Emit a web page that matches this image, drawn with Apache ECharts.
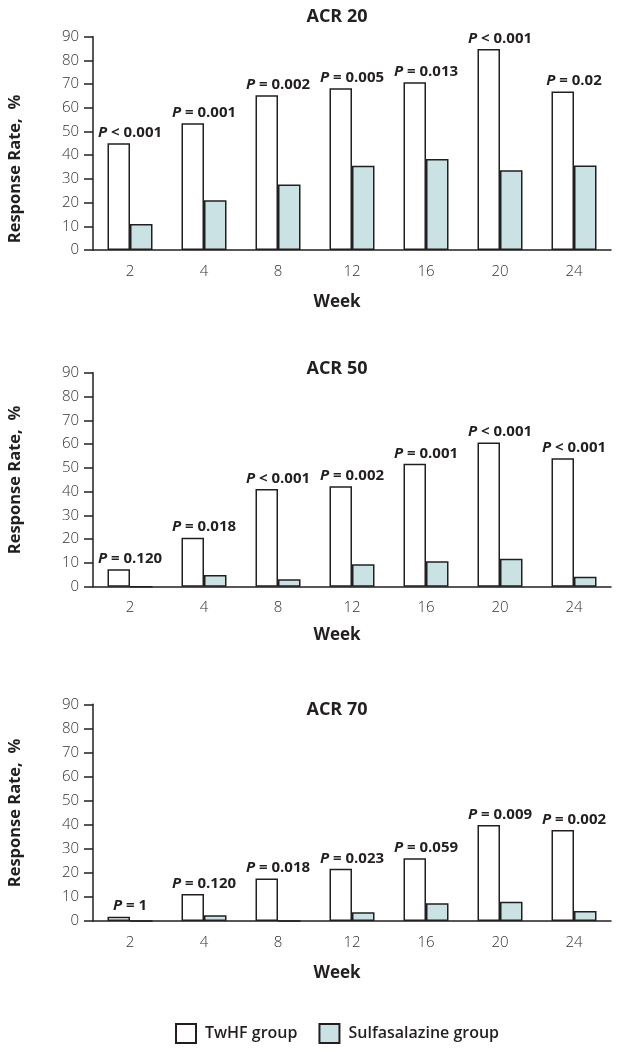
<!DOCTYPE html>
<html>
<head>
<meta charset="utf-8">
<title>ACR response rates</title>
<script src="https://cdn.jsdelivr.net/npm/echarts@6/dist/echarts.min.js"></script>
<style>
  html, body { margin: 0; padding: 0; background: #fff; }
  #main { width: 624px; height: 1050px; }
</style>
</head>
<body>
<div id="main"></div>
<script>
// weeks on the x axis
var weeks = ['2', '4', '8', '12', '16', '20', '24'];
var yMin = 0, yMax = 90, yStep = 10;

// ACR 20
var acr20Twhf  = [45, 53.5, 65.3, 68.3, 70.8, 84.8, 66.9];
var acr20Sulfa = [11, 21, 27.6, 35.5, 38.4, 33.6, 35.7];
var acr20P     = ['< 0.001', '= 0.001', '= 0.002', '= 0.005', '= 0.013', '< 0.001', '= 0.02'];

// ACR 50
var acr50Twhf  = [7.3, 20.6, 41.1, 42.2, 51.7, 60.6, 54];
var acr50Sulfa = [0, 4.9, 3.1, 9.4, 10.7, 11.8, 4.2];
var acr50P     = ['= 0.120', '= 0.018', '< 0.001', '= 0.002', '= 0.001', '< 0.001', '< 0.001'];

// ACR 70
var acr70Twhf  = [1.8, 11.2, 17.6, 21.7, 26.1, 39.9, 37.8];
var acr70Sulfa = [0, 2.4, 0, 3.6, 7.4, 8.0, 4.2];
var acr70P     = ['= 1', '= 0.120', '= 0.018', '= 0.023', '= 0.059', '= 0.009', '= 0.002'];

var panelTitles = ['ACR 20', 'ACR 50', 'ACR 70'];

var FONT = '"Open Sans", "Liberation Sans", sans-serif';
var INK = '#231f20';
var SULFA_FILL = '#cae2e3';
var BAR_W = 22.5;

// grid boxes for the three panels
var grids = [
  { left: 93, right: 13, top: 36.7, height: 213.3 },
  { left: 93, right: 13, top: 372.7, height: 214 },
  { left: 93, right: 13, top: 704.3, height: 216.7 }
];
// text positions (title, "Week", y name) per panel
var centerX = 337;
var titleY = [17, 369, 710];
var weekY  = [302, 635, 973];
var yNameY = [169, 480, 813];

var panels = [
  { twhf: acr20Twhf, sulfa: acr20Sulfa, p: acr20P },
  { twhf: acr50Twhf, sulfa: acr50Sulfa, p: acr50P },
  { twhf: acr70Twhf, sulfa: acr70Sulfa, p: acr70P }
];

var xAxes = [], yAxes = [], series = [], graphics = [];

for (var i = 0; i < 3; i++) {
  xAxes.push({
    type: 'category',
    gridIndex: i,
    data: weeks,
    axisLine: { lineStyle: { color: INK, width: 1.5 } },
    axisTick: { length: 10, lineStyle: { color: INK, width: 1.5 } },
    axisLabel: { margin: 14, color: '#333', fontSize: 15, fontWeight: 300, fontFamily: FONT }
  });
  yAxes.push({
    type: 'value',
    gridIndex: i,
    min: yMin, max: yMax, interval: yStep,
    splitLine: { show: false },
    axisLine: { show: true, lineStyle: { color: INK, width: 1.5 } },
    axisTick: { show: true, length: 9, lineStyle: { color: INK, width: 1.5 } },
    axisLabel: { margin: 14, color: '#333', fontSize: 15, fontWeight: 300, fontFamily: FONT }
  });

  (function (pv) {
    series.push({
      name: 'TwHF group',
      type: 'bar',
      xAxisIndex: i, yAxisIndex: i,
      data: panels[i].twhf,
      barWidth: BAR_W,
      barGap: '0%',
      itemStyle: { color: '#ffffff', borderColor: INK, borderWidth: 1.5 },
      label: {
        show: true,
        position: 'top',
        distance: 3,
        offset: [BAR_W / 2, 0],
        color: INK,
        fontSize: 15,
        fontWeight: 'bold',
        fontFamily: FONT,
        formatter: function (p) { return '{i|P} ' + pv[p.dataIndex]; },
        rich: {
          i: { fontStyle: 'italic', fontWeight: 'bold', fontSize: 15, fontFamily: FONT, color: INK }
        }
      }
    });
  })(panels[i].p);

  series.push({
    name: 'Sulfasalazine group',
    type: 'bar',
    xAxisIndex: i, yAxisIndex: i,
    data: panels[i].sulfa,
    barWidth: BAR_W,
    barGap: '0%',
    itemStyle: { color: SULFA_FILL, borderColor: INK, borderWidth: 1.5 }
  });

  // panel title, x name and y name
  graphics.push({
    type: 'text', x: centerX, y: titleY[i],
    style: { text: panelTitles[i], align: 'center', verticalAlign: 'middle',
      fontSize: 18, fontWeight: 'bold', fontFamily: FONT, fill: INK }
  });
  graphics.push({
    type: 'text', x: centerX, y: weekY[i],
    style: { text: 'Week', align: 'center', verticalAlign: 'middle',
      fontSize: 17, fontWeight: 'bold', fontFamily: FONT, fill: INK }
  });
  graphics.push({
    type: 'text', x: 15, y: yNameY[i], rotation: Math.PI / 2,
    style: { text: 'Response Rate,  %', align: 'center', verticalAlign: 'middle',
      fontSize: 16.5, fontWeight: 'bold', fontFamily: FONT, fill: INK }
  });
}

var myChart = echarts.init(document.getElementById('main'));
myChart.setOption({
  animation: false,
  backgroundColor: '#ffffff',
  grid: grids,
  xAxis: xAxes,
  yAxis: yAxes,
  series: series,
  legend: {
    data: ['TwHF group', 'Sulfasalazine group'],
    left: 170,
    top: 1018,
    icon: 'rect',
    itemWidth: 20,
    itemHeight: 19,
    itemGap: 21,
    selectedMode: false,
    textStyle: { fontSize: 16, fontWeight: 600, fontFamily: FONT, color: INK, padding: [0, 0, 0, 4] }
  },
  graphic: graphics
});
</script>
</body>
</html>
